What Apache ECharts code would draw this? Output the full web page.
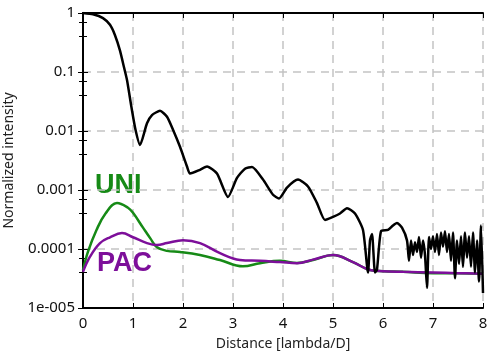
<!DOCTYPE html>
<html>
<head>
<meta charset="utf-8">
<script src="https://cdn.jsdelivr.net/npm/echarts@6/dist/echarts.min.js"></script>
<style>
  html, body { margin: 0; padding: 0; background: #fff; }
  #main { width: 489px; height: 356px; }
</style>
</head>
<body>
<div id="main"></div>
<script>
// distance in lambda/D
const blackX = [0, 0.2, 0.4, 0.54, 0.64, 0.74, 0.82, 0.88, 0.97, 1.05, 1.14, 1.28, 1.38, 1.54, 1.68, 1.8, 1.94, 2.08, 2.14, 2.34, 2.48, 2.68, 2.9, 3.08, 3.24, 3.38, 3.6, 3.8, 3.92, 4.08, 4.3, 4.5, 4.68, 4.84, 5.0, 5.14, 5.28, 5.44, 5.6, 5.7, 5.74, 5.78, 5.84, 5.88, 5.96, 6.1, 6.2, 6.28, 6.38, 6.48, 6.52,
  6.56, 6.6, 6.64, 6.68, 6.72, 6.76, 6.8, 6.84, 6.88, 6.92, 6.96, 7.0, 7.04, 7.08, 7.12, 7.16, 7.2, 7.24, 7.28, 7.32, 7.36, 7.4, 7.44, 7.48, 7.52, 7.56, 7.6, 7.64, 7.68, 7.72, 7.76, 7.8, 7.84, 7.88, 7.92, 7.96, 8.0];
const blackY = [1, 0.95, 0.82, 0.63, 0.42, 0.23, 0.12, 0.073, 0.025, 0.0105, 0.0058, 0.0135, 0.0186, 0.022, 0.0174, 0.0105, 0.0054, 0.0025, 0.0019, 0.0022, 0.0025, 0.0019, 0.00076, 0.0016, 0.0023, 0.00245, 0.0015, 0.00083, 0.00072, 0.0011, 0.0015, 0.00115, 0.0006, 0.00031, 0.00035, 0.0004, 0.00049, 0.0004, 0.00021, 0.00004, 0.00014, 0.00018, 0.00004, 0.000045, 0.0002, 0.00021, 0.00025, 0.000275, 0.00023, 0.00014, 0.000063,
  0.00014, 0.000079, 0.00013, 0.000089, 0.00016, 0.000071, 0.00014, 0.000079, 0.000022, 0.00016, 0.0001, 0.000165, 0.000089, 0.00018, 0.000079, 0.00019, 0.00011, 0.0002, 0.000089, 0.00018, 0.000063, 0.00019, 0.000032, 0.00014, 0.000056, 0.000165, 0.00005, 0.00019, 0.000071, 0.000165, 0.00005, 0.00019, 0.00004, 0.00014, 0.000028, 0.00025, 0.000018];

const uniX = [0, 0.1, 0.27, 0.45, 0.68, 0.9, 1.0, 1.2, 1.35, 1.48, 1.68, 1.94, 2.34, 2.74, 3.2, 3.54, 3.94, 4.28, 4.6, 5.0, 5.4, 5.74, 6.0, 6.4, 7.0, 7.5, 8.0];
const uniY = [0.000044, 0.00009, 0.00021, 0.0004, 0.0006, 0.0005, 0.00041, 0.00023, 0.00015, 0.000107, 0.000093, 0.000089, 0.000079, 0.000065, 0.000051, 0.0000575, 0.000063, 0.000058, 0.000065, 0.000079, 0.00006, 0.000044, 0.000042, 0.000041, 0.000039, 0.000039, 0.000038];

const pacX = [0, 0.14, 0.34, 0.54, 0.78, 1.0, 1.28, 1.48, 1.68, 2.0, 2.34, 2.74, 3.14, 3.54, 3.94, 4.28, 4.6, 5.0, 5.4, 5.74, 6.0, 6.4, 7.0, 7.5, 8.0];
const pacY = [0.000041, 0.000074, 0.000126, 0.000158, 0.000186, 0.000158, 0.000126, 0.000117, 0.000126, 0.000141, 0.000126, 0.000085, 0.000065, 0.000063, 0.00006, 0.0000575, 0.000066, 0.000079, 0.00006, 0.000044, 0.000042, 0.000041, 0.00004, 0.000039, 0.000038];

const yTickLabels = { '1': '1', '0.1': '0.1', '0.01': '0.01', '0.001': '0.001', '0.0001': '0.0001', '0.00001': '1e-005' };

const FONT = 'Noto Sans';
const GREEN = '#168a16';
const PURPLE = '#7d0f9a';

const zip = (xs, ys) => xs.map((x, i) => [x, ys[i]]);

const chart = echarts.init(document.getElementById('main'));

const frameAxis = {
  axisLine: { show: true, lineStyle: { color: '#000', width: 2 } },
  axisTick: { show: true, inside: true, length: 5, lineStyle: { color: '#000', width: 1 } },
  splitLine: { show: false }
};

chart.setOption({
  animation: false,
  grid: { left: 83, right: 6, top: 13, bottom: 48, containLabel: false, outerBoundsMode: 'none' },
  xAxis: [
    {
      type: 'value', min: 0, max: 8, interval: 1,
      name: 'Distance [lambda/D]', nameLocation: 'middle', nameGap: 29,
      nameTextStyle: { fontFamily: FONT, fontSize: 14, color: '#222' },
      axisLine: { show: true, onZero: false, lineStyle: { color: '#000', width: 2 } },
      axisTick: { show: true, inside: true, length: 5, lineStyle: { color: '#000' } },
      axisLabel: { fontFamily: FONT, fontSize: 15, color: '#111', margin: 8 },
      splitLine: { show: true, lineStyle: { color: '#c4c4c4', width: 1.5, type: [8, 6] } }
    },
    Object.assign({ type: 'value', position: 'top', min: 0, max: 8, interval: 1, axisLabel: { show: false } }, frameAxis)
  ],
  yAxis: [
    {
      type: 'log', logBase: 10, min: 0.00001, max: 1,
      name: 'Normalized intensity', nameLocation: 'middle', nameGap: 58,
      nameTextStyle: { fontFamily: FONT, fontSize: 14, color: '#222' },
      axisLine: { show: true, onZero: false, lineStyle: { color: '#000', width: 2 } },
      axisTick: { show: true, inside: true, length: 5, lineStyle: { color: '#000' } },
      minorTick: { show: true, splitNumber: 3, length: 4, lineStyle: { color: '#000' } },
      axisLabel: {
        fontFamily: FONT, fontSize: 15, color: '#111', margin: 8,
        formatter: v => yTickLabels[String(+v.toPrecision(3))] || ''
      },
      splitLine: { show: true, lineStyle: { color: '#c4c4c4', width: 1.5, type: [8, 6] } }
    },
    Object.assign({
      type: 'log', logBase: 10, min: 0.00001, max: 1, position: 'right',
      axisLabel: { show: false },
      minorTick: { show: true, splitNumber: 3, length: 4, lineStyle: { color: '#000' } }
    }, frameAxis)
  ],
  series: [
    {
      type: 'line', data: zip(pacX, pacY), smooth: 0.4, showSymbol: false,
      lineStyle: { color: PURPLE, width: 2.5 }, z: 3
    },
    {
      type: 'line', data: zip(uniX, uniY), smooth: 0.4, showSymbol: false,
      lineStyle: { color: GREEN, width: 2.5 }, z: 2
    },
    {
      type: 'line', data: zip(blackX, blackY), smooth: 0.2, showSymbol: false,
      lineStyle: { color: '#000', width: 2.5 }, z: 4
    }
  ],
  graphic: [
    { type: 'text', left: 95, top: 172, style: { text: 'UNI', fill: GREEN, font: 'bold 27px "Liberation Sans"' } },
    { type: 'text', left: 97, top: 250, style: { text: 'PAC', fill: PURPLE, font: 'bold 27px "Liberation Sans"' } }
  ]
});
</script>
</body>
</html>
